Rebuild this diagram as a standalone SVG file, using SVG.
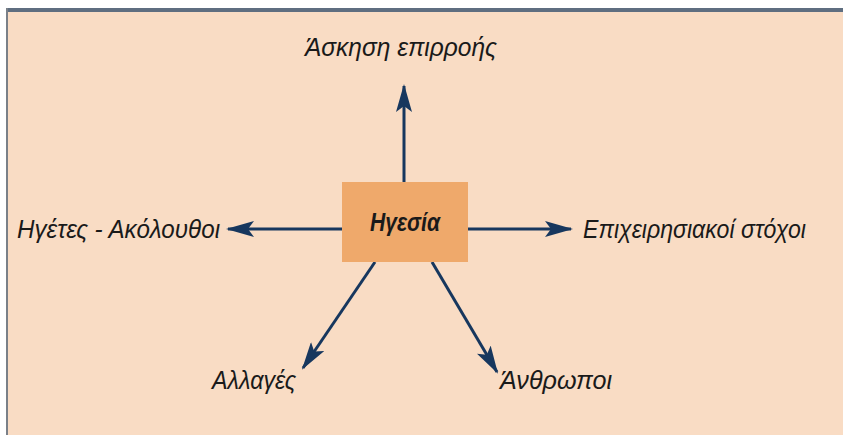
<svg xmlns="http://www.w3.org/2000/svg" width="843" height="435" viewBox="0 0 843 435">
<style>
.lbl{font-family:"Liberation Sans","Noto Sans",sans-serif;font-style:italic;font-size:25px;fill:#1a1a1a}
.con{stroke:#17375E;stroke-width:3;fill:none}
</style>
<defs>
<marker id="ah" viewBox="0 0 28 16" refX="26" refY="8" markerWidth="28" markerHeight="16" markerUnits="userSpaceOnUse" orient="auto">
<path d="M0,0 L28,8 L0,16 L6,8 Z" fill="#17375E"/>
</marker>
</defs>
<rect x="0" y="0" width="843" height="435" fill="#FFFFFF"/>
<rect x="7" y="8" width="836" height="427" fill="#F9DCC4"/>
<rect x="7" y="8" width="836" height="4" fill="#5F6E80"/>
<rect x="6" y="8" width="2" height="427" fill="#7A8088"/>
<g id="connectors">
<line class="con" x1="404" y1="182" x2="404" y2="86" marker-end="url(#ah)"/>
<line class="con" x1="342" y1="229" x2="228" y2="229" marker-end="url(#ah)"/>
<line class="con" x1="468" y1="229" x2="571" y2="229" marker-end="url(#ah)"/>
<line class="con" x1="375" y1="262" x2="303" y2="368" marker-end="url(#ah)"/>
<line class="con" x1="432" y1="262" x2="497" y2="372" marker-end="url(#ah)"/>
</g>
<g id="center">
<rect x="342" y="182" width="126" height="80" fill="#EFA96B"/>
<text class="lbl" x="405" y="231" text-anchor="middle" font-weight="bold" font-size="27" textLength="70" lengthAdjust="spacingAndGlyphs">Ηγεσία</text>
</g>
<g id="top"><text class="lbl" x="305" y="56" textLength="192" lengthAdjust="spacingAndGlyphs">Άσκηση επιρροής</text></g>
<g id="left"><text class="lbl" x="17" y="238" textLength="203" lengthAdjust="spacingAndGlyphs">Ηγέτες - Ακόλουθοι</text></g>
<g id="right"><text class="lbl" x="583" y="238" textLength="223" lengthAdjust="spacingAndGlyphs">Επιχειρησιακοί στόχοι</text></g>
<g id="bottomleft"><text class="lbl" x="212" y="389" textLength="84" lengthAdjust="spacingAndGlyphs">Αλλαγές</text></g>
<g id="bottomright"><text class="lbl" x="500" y="389" textLength="112" lengthAdjust="spacingAndGlyphs">Άνθρωποι</text></g>
</svg>
